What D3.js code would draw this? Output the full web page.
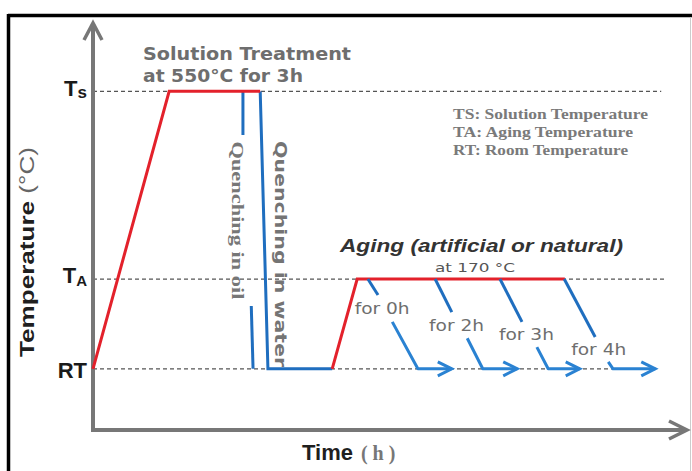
<!DOCTYPE html>
<html>
<head>
<meta charset="utf-8">
<script src="https://cdn.jsdelivr.net/npm/d3@7"></script>
<style>
html,body{margin:0;padding:0;background:#fff;}
svg{display:block;}
</style>
</head>
<body>
<script>
// ---- data (time in relative units 0..100, temperature in relative units 0..100) ----
const levelNames = ["RT", "TA", "TS"];
const levelTemps = [15, 37, 83];
const levelDashEnd = [94.5, 96.1, 95.5];

const solutionX = [0, 12.8, 28.1];
const solutionT = [15, 83, 83];

const waterX = [28.1, 29.4, 40.2];
const waterT = [83, 15, 15];

const oilTopX = [25.2, 25.2];
const oilTopT = [83, 72.3];
const oilBotX = [26.6, 26.9];
const oilBotT = [30.4, 15];

const agingX = [40.2, 44.4, 79.3];
const agingT = [15, 37, 37];

const agingLabels = ["for 0h", "for 2h", "for 3h", "for 4h"];
const coolStartX = [46.2, 57.5, 68.4, 79.2];
const coolMid1X = [47.9, 60.3, 72.1, 84.4];
const coolMid1T = [33.1, 28.9, 26.5, 22.8];
const coolMid2X = [50.3, 62.9, 74.6, 86.6];
const coolMid2T = [26.5, 22.5, 20.3, 16.7];
const coolEndX = [54.6, 65.5, 76.5, 87.4];
const arrowEndX = [60.3, 71.3, 81.8, 94.5];

const legendLines = ["TS: Solution Temperature", "TA: Aging Temperature", "RT: Room Temperature"];

// ---- drawing ----
const W = 692, H = 471;
const svg = d3.select("body").append("svg").attr("width", W).attr("height", H);
svg.append("rect").attr("width", W).attr("height", H).attr("fill", "#fff");

const x = d3.scaleLinear().domain([0, 100]).range([93, 688]);
const y = d3.scaleLinear().domain([0, 100]).range([430, 22]);

// frame
svg.append("line").attr("x1", 8).attr("x2", 692).attr("y1", 15.5).attr("y2", 15.5).attr("stroke", "#000").attr("stroke-width", 3.5);
svg.append("line").attr("x1", 8.5).attr("x2", 8.5).attr("y1", 14).attr("y2", H).attr("stroke", "#000").attr("stroke-width", 3.5);
svg.append("line").attr("x1", 690.5).attr("x2", 690.5).attr("y1", 17).attr("y2", H).attr("stroke", "#ccc").attr("stroke-width", 1);

const RED = "#e3212b", BLUE = "#1f6ebf", ABLUE = "#2a82d2", AXIS = "#777";

// dashed level lines
levelTemps.forEach((t, i) => {
  svg.append("line").attr("x1", x(0)).attr("x2", x(levelDashEnd[i]))
    .attr("y1", y(t)).attr("y2", y(t))
    .attr("stroke", "#555").attr("stroke-width", 1.2).attr("stroke-dasharray", "4,3");
});

// axes
const yAxis = d3.axisLeft(y).tickValues(levelTemps).tickSize(0).tickPadding(6);
const gY = svg.append("g").attr("transform", `translate(${x(0)},0)`).call(yAxis);
gY.select(".domain").remove();
gY.selectAll(".tick text").each(function(d, i) {
  const t = d3.select(this).text("")
    .attr("font-family", "Liberation Sans, Arial, sans-serif").attr("font-weight", "bold")
    .attr("fill", "#1a1a1a").attr("dy", "0.38em");
  const name = levelNames[i];
  if (name === "RT") {
    t.attr("font-size", 22).text("RT");
  } else {
    t.append("tspan").attr("font-size", 22).text(name[0]);
    t.append("tspan").attr("font-size", name[1] === "S" ? 17 : 15).attr("dy", name[1] === "S" ? 2 : 3).text(name[1] === "S" ? "s" : "A");
  }
});

const axisG = svg.append("g").attr("stroke", AXIS).attr("fill", "none").attr("stroke-width", 4).attr("stroke-linecap", "square");
axisG.append("path").attr("d", `M${x(0)},${y(100)+3} L${x(0)},${y(0)} L${x(100)-2},${y(0)}`).attr("stroke-linejoin", "miter").attr("stroke-linecap", "butt");
axisG.append("path").attr("d", `M${x(0)-9},${y(100)+18} L${x(0)},${y(100)+1} L${x(0)+9},${y(100)+18}`).attr("stroke-width", 3.5).attr("stroke-linejoin", "miter").attr("stroke-linecap", "butt");
axisG.append("path").attr("d", `M${x(100)-19},${y(0)-9} L${x(100)-1},${y(0)} L${x(100)-19},${y(0)+9}`).attr("stroke-width", 3.5).attr("stroke-linejoin", "miter").attr("stroke-linecap", "butt");

// process lines
const line = d3.line().x(d => x(d[0])).y(d => y(d[1]));
const pts = (xs, ts) => xs.map((v, i) => [v, ts[i]]);

svg.append("path").attr("d", line(pts(oilTopX, oilTopT))).attr("stroke", BLUE).attr("stroke-width", 3).attr("fill", "none");
svg.append("path").attr("d", line(pts(oilBotX, oilBotT))).attr("stroke", BLUE).attr("stroke-width", 3).attr("fill", "none");
svg.append("path").attr("d", line(pts(waterX, waterT))).attr("stroke", BLUE).attr("stroke-width", 3).attr("fill", "none");
svg.append("path").attr("d", line(pts(solutionX, solutionT))).attr("stroke", RED).attr("stroke-width", 3).attr("fill", "none").attr("stroke-linejoin", "miter");
svg.append("path").attr("d", line(pts(agingX, agingT))).attr("stroke", RED).attr("stroke-width", 3).attr("fill", "none");

// aging cooling arrows
agingLabels.forEach((lab, i) => {
  svg.append("path").attr("d", line([[coolStartX[i], levelTemps[1]], [coolMid1X[i], coolMid1T[i]]]))
    .attr("stroke", BLUE).attr("stroke-width", 3).attr("fill", "none");
  svg.append("path").attr("d", line([[coolMid2X[i], coolMid2T[i]], [coolEndX[i], levelTemps[0]], [arrowEndX[i], levelTemps[0]]]))
    .attr("stroke", ABLUE).attr("stroke-width", 3).attr("fill", "none").attr("stroke-linejoin", "round");
  const ex = x(arrowEndX[i]), ey = y(levelTemps[0]);
  svg.append("path").attr("d", `M${ex-14},${ey-7} L${ex},${ey} L${ex-14},${ey+7}`)
    .attr("stroke", ABLUE).attr("stroke-width", 3).attr("fill", "none");
  const lx = (x(coolMid1X[i]) + x(coolMid2X[i])) / 2 - 3;
  const ly = (y(coolMid1T[i]) + y(coolMid2T[i])) / 2;
  svg.append("text").attr("x", lx).attr("y", ly).attr("dy", "0.35em").attr("text-anchor", "middle")
    .attr("font-family", "DejaVu Sans, sans-serif").attr("font-size", 16).attr("fill", "#6e6e6e")
    .attr("textLength", 55).attr("lengthAdjust", "spacingAndGlyphs").text(lab);
});

// quench labels
const oilMidY = (y(oilTopT[1]) + y(oilBotT[0])) / 2;
svg.append("text").attr("transform", `translate(${x(oilTopX[0]) - 5},${oilMidY}) rotate(90)`)
  .attr("text-anchor", "middle").attr("dy", "0.35em")
  .attr("font-family", "Liberation Serif, serif").attr("font-weight", "bold").attr("font-size", 17).attr("fill", "#777")
  .attr("textLength", 158).attr("lengthAdjust", "spacingAndGlyphs").text("Quenching in oil");
svg.append("text").attr("transform", `translate(${x(waterX[1]) + 13},${(y(waterT[0]) + y(waterT[1])) / 2 + 24}) rotate(90)`)
  .attr("text-anchor", "middle").attr("dy", "0.35em")
  .attr("font-family", "DejaVu Sans, sans-serif").attr("font-weight", "bold").attr("font-size", 16).attr("fill", "#747474")
  .attr("textLength", 226).attr("lengthAdjust", "spacingAndGlyphs").text("Quenching in water");

// annotations
const ann = svg.append("g").attr("font-family", "DejaVu Sans, sans-serif");
ann.append("text").attr("x", 143).attr("y", 60).attr("font-size", 17).attr("font-weight", "bold").attr("fill", "#6e6e6e")
  .attr("textLength", 208).attr("lengthAdjust", "spacingAndGlyphs").text("Solution Treatment");
ann.append("text").attr("x", 143).attr("y", 82).attr("font-size", 17).attr("font-weight", "bold").attr("fill", "#6e6e6e")
  .attr("textLength", 160).attr("lengthAdjust", "spacingAndGlyphs").text("at 550°C for 3h");
ann.append("text").attr("x", 340).attr("y", 252).attr("font-size", 17.5).attr("font-weight", "bold").attr("font-style", "italic")
  .attr("font-family", "Liberation Sans, Arial, sans-serif").attr("fill", "#333")
  .attr("textLength", 283).attr("lengthAdjust", "spacingAndGlyphs").text("Aging (artificial or natural)");
ann.append("text").attr("x", 435).attr("y", 272).attr("font-size", 13).attr("fill", "#555")
  .attr("textLength", 80).attr("lengthAdjust", "spacingAndGlyphs").text("at 170 °C");

// legend
const legWidths = [195, 180, 175];
legendLines.forEach((s, i) => {
  svg.append("text").attr("x", 453).attr("y", 119 + i * 18.2)
    .attr("font-family", "Liberation Serif, serif").attr("font-weight", "bold").attr("font-size", 14.5).attr("fill", "#7a7a7a")
    .attr("textLength", legWidths[i]).attr("lengthAdjust", "spacingAndGlyphs").text(s);
});

// axis titles
const yt = svg.append("text").attr("transform", `translate(34,${252}) rotate(-90)`).attr("text-anchor", "middle")
  .attr("font-family", "Liberation Sans, Arial, sans-serif").attr("font-weight", "bold").attr("font-size", 21)
  .attr("textLength", 210).attr("lengthAdjust", "spacingAndGlyphs");
yt.append("tspan").attr("fill", "#1f1f1f").text("Temperature ");
yt.append("tspan").attr("fill", "#666").attr("font-weight", "normal").text("(°C)");

const xt = svg.append("text").attr("x", 302).attr("y", 460).attr("font-weight", "bold");
xt.append("tspan").attr("font-family", "Liberation Sans, Arial, sans-serif").attr("font-size", 22).attr("fill", "#1f1f1f").text("Time");
xt.append("tspan").attr("font-family", "Liberation Serif, serif").attr("font-size", 20).attr("fill", "#777").attr("dx", 8).text("( h )");
</script>
</body>
</html>
